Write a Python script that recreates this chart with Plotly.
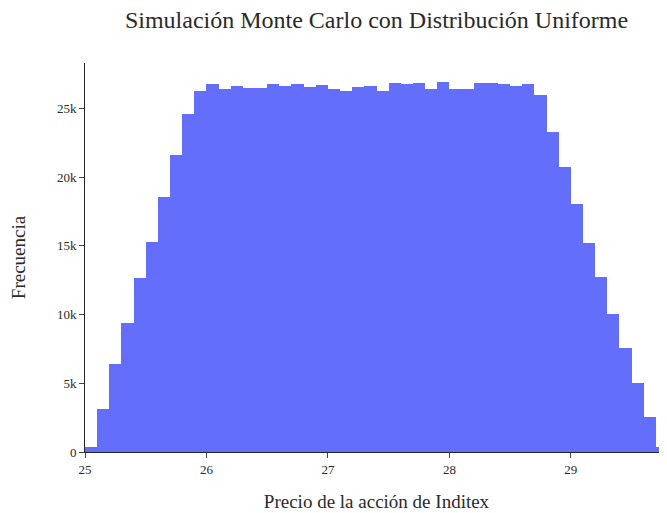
import plotly.graph_objects as go

bin_start = 25.0
bin_width = 0.1
counts = [340, 3100, 6400, 9420, 12640, 15310, 18560, 21620, 24630, 26250,
          26810, 26400, 26670, 26500, 26500, 26810, 26670, 26810, 26600, 26740,
          26400, 26250, 26600, 26670, 26300, 26880, 26810, 26880, 26400, 26900,
          26440, 26440, 26850, 26850, 26780, 26640, 26780, 26000, 23310, 20710,
          18050, 15210, 12740, 10070, 7570, 5020, 2520, 340]

centers = [bin_start + bin_width * (i + 0.5) for i in range(len(counts))]
x_end = bin_start + bin_width * len(counts)

fig = go.Figure(go.Bar(
    x=centers, y=counts, width=bin_width,
    marker=dict(color="#636efa", line=dict(width=0)),
))

font = "Liberation Serif, Times New Roman, serif"
fig.update_layout(
    template="simple_white",
    width=667, height=513,
    margin=dict(l=77, r=7, t=55, b=69, autoexpand=False),
    bargap=0,
    font=dict(family=font, size=13, color="#2a2a2a"),
    title=dict(text="Simulación Monte Carlo con Distribución Uniforme",
               x=0.5, xref="paper", xanchor="center",
               y=1.0, yref="container", yanchor="top",
               pad=dict(t=3),
               font=dict(size=24, family=font, color="#2a2a2a")),
    showlegend=False,
)
fig.update_xaxes(range=[bin_start, x_end], dtick=1, ticks="outside", ticklen=5,
                 automargin=False,
                 title=dict(text="Precio de la acción de Inditex", font=dict(size=19),
                            standoff=19),
                 tickfont=dict(size=13))
fig.update_yaxes(ticks="outside", ticklen=5, dtick=5000, automargin=False,
                 title=dict(text="Frecuencia", font=dict(size=19), standoff=30),
                 tickfont=dict(size=13))

fig.write_html("out.html")
